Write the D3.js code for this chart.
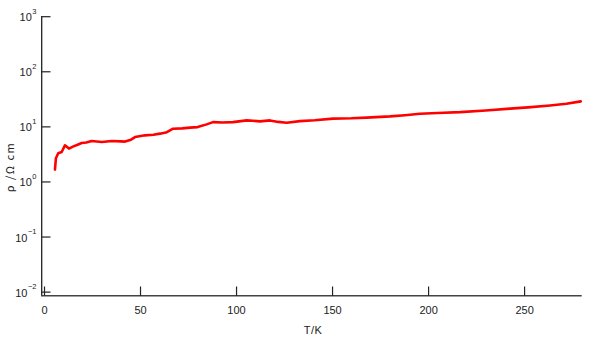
<!DOCTYPE html>
<html>
<head>
<meta charset="utf-8">
<script src="https://cdn.jsdelivr.net/npm/d3@7"></script>
<style>
  body { margin: 0; background: #fff; }
  text { font-family: "Liberation Sans", Arial, sans-serif; fill: #222; }
</style>
</head>
<body>
<svg id="chart" width="591" height="339"></svg>
<script>
// temperature (K) and resistivity (ohm cm)
const temps = [5.7, 6.2, 7.4, 9.2, 10.9, 13.0, 15.3, 17.5, 19.6, 22.0, 24.8, 30.1, 35.3, 40.0, 42.2, 45.3, 47.4,
  52.6, 57.0, 60.4, 64.0, 67.2, 72.0, 76.0, 80.0, 84.7, 88.0, 93.0, 98.4, 105.6, 112.5, 117.7, 122.0, 126.4, 133.3, 141.0, 150.5,
  160.0, 168.0, 180.2, 188.0, 195.8, 205.0, 216.7, 230.0, 242.7, 252.0, 263.5, 272.0, 279.5];
const rho = [1.68, 2.69, 3.31, 3.49, 4.62, 4.03, 4.43, 4.75, 5.09, 5.2, 5.53, 5.31, 5.53, 5.45, 5.4, 5.86, 6.53,
  7.02, 7.2, 7.53, 8.0, 9.27, 9.4, 9.68, 9.9, 11.1, 12.2, 12.0, 12.2, 13.1, 12.6, 13.1, 12.3, 11.9, 12.7, 13.2, 14.1,
  14.3, 14.7, 15.5, 16.3, 17.3, 17.8, 18.5, 19.8, 21.4, 22.6, 24.5, 26.3, 29.0];
const xTicks = [0, 50, 100, 150, 200, 250];
const yExps = [-2, -1, 0, 1, 2, 3];

const svg = d3.select('svg#chart');
const x = d3.scaleLinear().domain([-1.2, 280]).range([41.7, 581.7]);
const y = d3.scaleLog().domain([Math.pow(10, -2.065), 1000]).range([295.7, 16.7]);

// axes lines
svg.append('line').attr('x1', 41.7).attr('x2', 41.7).attr('y1', 16).attr('y2', 296)
  .attr('stroke', '#222').attr('stroke-width', 1.3);
svg.append('line').attr('x1', 41).attr('x2', 581.7).attr('y1', 295.7).attr('y2', 295.7)
  .attr('stroke', '#444').attr('stroke-width', 1.6);

// y ticks (inward)
const yg = svg.append('g');
yExps.forEach(e => {
  const yy = y(Math.pow(10, e));
  yg.append('line').attr('x1', 41.7).attr('x2', 50.5).attr('y1', yy).attr('y2', yy)
    .attr('stroke', '#222').attr('stroke-width', 1.2);
  const t = yg.append('text').attr('x', 36.5).attr('y', yy + 4.5)
    .attr('text-anchor', 'end').attr('font-size', 11);
  t.append('tspan').text('10');
  t.append('tspan').attr('dy', -7.5).attr('dx', 0.5).attr('font-size', 7.5)
    .text(e < 0 ? '\u2212' + Math.abs(e) : e);
});

// x ticks (inward)
const xg = svg.append('g');
xTicks.forEach(v => {
  const xx = x(v) + 0.5;
  xg.append('line').attr('x1', xx).attr('x2', xx).attr('y1', 295.7).attr('y2', 286.5)
    .attr('stroke', '#222').attr('stroke-width', 1.2);
  xg.append('text').attr('x', xx).attr('y', 314).attr('text-anchor', 'middle')
    .attr('font-size', 11).text(v);
});

// axis titles
svg.append('text').attr('x', 313).attr('y', 334).attr('text-anchor', 'middle')
  .attr('font-size', 11).attr('letter-spacing', 0.5).text('T/K');
svg.append('text').attr('transform', 'translate(14,167) rotate(-90)')
  .attr('text-anchor', 'middle').attr('font-size', 11).attr('letter-spacing', 1.5)
  .style('font-family', '"Noto Sans CJK JP", sans-serif')
  .text('\u03c1 /\u03a9 cm');

// data line
const line = d3.line().x((d, i) => x(temps[i])).y(d => y(d));
svg.append('path').datum(rho).attr('d', line)
  .attr('fill', 'none').attr('stroke', '#f00').attr('stroke-width', 2.6)
  .attr('stroke-linejoin', 'round').attr('stroke-linecap', 'round');
</script>
</body>
</html>
